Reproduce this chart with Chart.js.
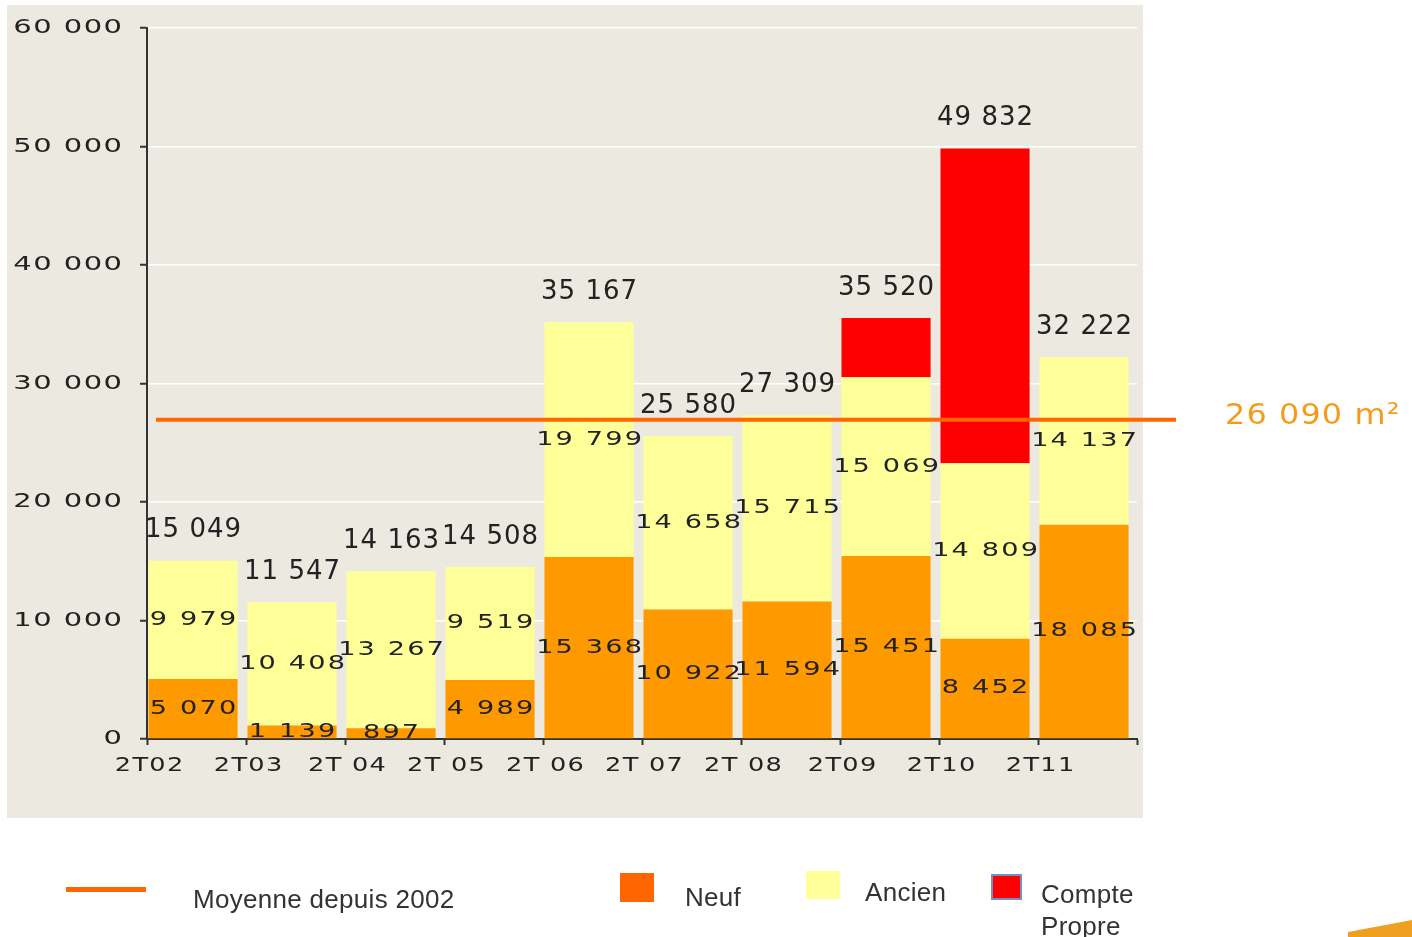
<!DOCTYPE html>
<html lang="fr">
<head>
<meta charset="UTF-8" />
<title>Surfaces commencées par trimestre</title>
<script src="https://cdn.jsdelivr.net/npm/chart.js"></script>
<style>
    body { margin: 0; background: #fff; }
    #wrap { position: relative; width: 1412px; height: 937px; overflow: hidden; }
    #wrap canvas { position: absolute; left: 0; top: 0; }
    .lg { position: absolute; font-family: "Liberation Sans", Arial, sans-serif; font-size: 26px; letter-spacing: 0.3px; color: #333; line-height: 32px; }
    .sw { position: absolute; box-sizing: border-box; }
    #deco { position: absolute; left: 1348px; top: 920px; width: 64px; height: 17px; background: #f0a020;
            clip-path: polygon(0 70%, 100% 0, 100% 100%, 0 100%); }
</style>
</head>
<body>
<div id="wrap">
    <canvas id="chart"></canvas>
    <!-- légende -->
    <div class="sw" style="left:66px;top:887px;width:80px;height:5px;background:#ff6600"></div>
    <div class="lg" style="left:193px;top:883px">Moyenne depuis 2002</div>
    <div class="sw" style="left:620px;top:873px;width:34px;height:29px;background:#ff6600"></div>
    <div class="lg" style="left:685px;top:881px">Neuf</div>
    <div class="sw" style="left:806px;top:871px;width:34px;height:28px;background:#ffff99"></div>
    <div class="lg" style="left:865px;top:876px">Ancien</div>
    <div class="sw" style="left:991px;top:874px;width:31px;height:26px;background:#ff0000;border:2px solid #7090c8"></div>
    <div class="lg" style="left:1041px;top:878px">Compte<br>Propre</div>
    <div id="deco"></div>
</div>

<script>
// données
const periods = ['2T02', '2T03', '2T 04', '2T 05', '2T 06', '2T 07', '2T 08', '2T09', '2T10', '2T11'];
const neuf = [5070, 1139, 897, 4989, 15368, 10922, 11594, 15451, 8452, 18085];
const ancien = [9979, 10408, 13267, 9519, 19799, 14658, 15715, 15069, 14809, 14137];
const comptePropre = [null, null, null, null, null, null, null, 5000, 26571, null];
const totals = [15049, 11547, 14163, 14508, 35167, 25580, 27309, 35520, 49832, 32222];
const yTicks = [0, 10000, 20000, 30000, 40000, 50000, 60000];
const moyenne = 26950;          // position de la ligne sur le dessin
const moyenneLabel = '26 090 m²';

function fmt(v) {
    return String(v).replace(/\B(?=(\d{3})+(?!\d))/g, ' ');
}

// texte "élargi" pour imiter la police d'origine
function wideText(ctx, text, x, y, o) {
    ctx.save();
    ctx.font = o.font;
    ctx.letterSpacing = (o.ls || 0) + 'px';
    ctx.fillStyle = o.color || '#222';
    ctx.textBaseline = 'middle';
    ctx.textAlign = 'left';
    const sx = o.sx || 1;
    const w = (ctx.measureText(text).width - (o.ls || 0)) * sx;
    let x0 = x;
    if (o.align === 'center') x0 = x - w / 2;
    else if (o.align === 'right') x0 = x - w;
    ctx.translate(x0, y);
    ctx.scale(sx, 1);
    ctx.fillText(text, 0, 0);
    ctx.restore();
}

const toXY = arr => arr.map((v, i) => ({ x: i + 0.465, y: v }));

const bgPlugin = {
    id: 'bg',
    beforeDraw(chart) {
        const ctx = chart.ctx;
        ctx.save();
        ctx.fillStyle = '#eceae0';
        ctx.fillRect(7, 5, 1136, 813);
        ctx.restore();
    }
};

const labelsPlugin = {
    id: 'labels',
    afterDatasetsDraw(chart) {
        const ctx = chart.ctx;
        const xs = chart.scales.x, ys = chart.scales.y;
        const area = chart.chartArea;

        // ligne de moyenne
        const ym = ys.getPixelForValue(moyenne);
        ctx.save();
        ctx.strokeStyle = '#ff6600';
        ctx.lineWidth = 4;
        ctx.beginPath();
        ctx.moveTo(area.left + 9, ym);
        ctx.lineTo(1176, ym);
        ctx.stroke();
        ctx.restore();
        wideText(ctx, moyenneLabel, 1225, ym - 3, { font: '29px "DejaVu Sans"', sx: 1.1, ls: 1, color: '#f59b1c' });

        // étiquettes des segments
        const segFont = { font: '19px "DejaVu Sans"', sx: 1.43, ls: 1.5, align: 'center', color: '#222' };
        [0, 1].forEach(di => {
            const meta = chart.getDatasetMeta(di);
            const vals = di === 0 ? neuf : ancien;
            meta.data.forEach((el, i) => {
                const yc = Math.min((el.y + el.base) / 2, area.bottom - 6);
                wideText(ctx, fmt(vals[i]), el.x, yc, segFont);
            });
        });

        // totaux au-dessus des barres
        totals.forEach((t, i) => {
            const x = chart.getDatasetMeta(0).data[i].x;
            wideText(ctx, fmt(t), x, ys.getPixelForValue(t) - 30,
                { font: '26px "DejaVu Sans"', ls: 1, align: 'center', color: '#222' });
        });

        // graduations
        yTicks.forEach(v => {
            wideText(ctx, fmt(v), 122, ys.getPixelForValue(v),
                { font: '20px "DejaVu Sans"', sx: 1.45, ls: 1, align: 'right', color: '#222' });
        });
        periods.forEach((p, i) => {
            wideText(ctx, p, xs.getPixelForValue(i) + 2, area.bottom + 27,
                { font: '20px "DejaVu Sans"', sx: 1.28, ls: 1, align: 'center', color: '#222' });
        });
    }
};

new Chart(document.getElementById('chart'), {
    type: 'bar',
    data: {
        datasets: [
            { label: 'Neuf', data: toXY(neuf), backgroundColor: '#ff9900' },
            { label: 'Ancien', data: toXY(ancien), backgroundColor: '#ffff99' },
            { label: 'Compte Propre', data: toXY(comptePropre), backgroundColor: '#ff0000' }
        ]
    },
    options: {
        responsive: true,
        maintainAspectRatio: false,
        animation: false,
        barPercentage: 0.9,
        categoryPercentage: 1,
        borderWidth: 0,
        layout: { padding: { left: 0, right: 275, top: 28, bottom: 168 } },
        plugins: { legend: { display: false }, tooltip: { enabled: false } },
        scales: {
            x: {
                type: 'linear',
                stacked: true,
                min: 0,
                max: 10,
                offset: false,
                ticks: { display: false, stepSize: 1 },
                grid: { drawOnChartArea: false, drawTicks: true, tickLength: 6, tickColor: '#333', offset: false, tickWidth: 2 },
                border: { color: '#333', width: 2 },
                afterFit: s => { s.height = 30; }
            },
            y: {
                stacked: true,
                min: 0,
                max: 60000,
                ticks: { display: false, stepSize: 10000 },
                grid: { color: '#ffffff', lineWidth: 1.5, tickColor: '#333', tickLength: 7, tickWidth: 2 },
                border: { color: '#333', width: 2 },
                afterFit: s => { s.width = 147; }
            }
        }
    },
    plugins: [bgPlugin, labelsPlugin]
});
</script>
</body>
</html>
